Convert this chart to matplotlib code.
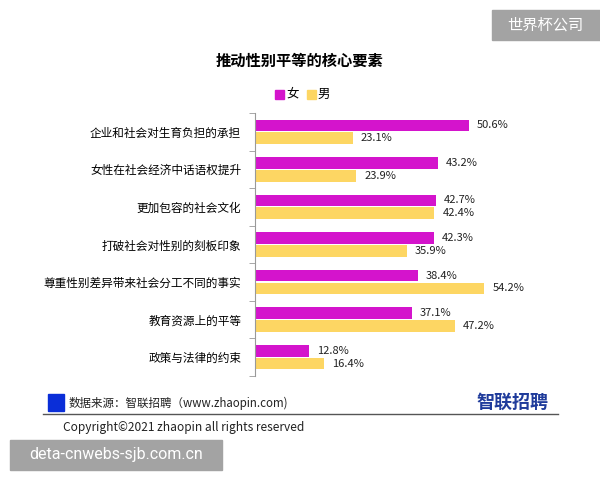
import matplotlib
matplotlib.use("Agg")
import matplotlib.pyplot as plt
from matplotlib.patches import Rectangle
from matplotlib.lines import Line2D

plt.rcParams['font.family'] = ['Noto Sans CJK SC', 'DejaVu Sans']

categories = ["企业和社会对生育负担的承担", "女性在社会经济中话语权提升", "更加包容的社会文化",
              "打破社会对性别的刻板印象", "尊重性别差异带来社会分工不同的事实",
              "教育资源上的平等", "政策与法律的约束"]
female = [50.6, 43.2, 42.7, 42.3, 38.4, 37.1, 12.8]
male = [23.1, 23.9, 42.4, 35.9, 54.2, 47.2, 16.4]
series_names = ["女", "男"]

c_f = '#D414CC'
c_m = '#FDD663'

fig = plt.figure(figsize=(6, 4.8), dpi=100)
ax = fig.add_axes([0.425, 0.2167, 0.505, 0.548])

y = list(range(len(categories)))
h = 0.31
ax.barh([v - 0.17 for v in y], female, height=h, color=c_f)
ax.barh([v + 0.17 for v in y], male, height=h, color=c_m)
for i in y:
    ax.text(female[i] + 1.9, i - 0.17, f"{female[i]:.1f}%", va='center', ha='left', fontsize=8, color='#222222')
    ax.text(male[i] + 1.9, i + 0.17, f"{male[i]:.1f}%", va='center', ha='left', fontsize=8, color='#222222')

ax.set_xlim(0, 71.6)
ax.set_ylim(len(categories) - 0.5, -0.5)
ax.set_yticks(y)
ax.set_yticklabels(categories, fontsize=8.4)
ax.tick_params(axis='y', which='major', length=0, pad=10)
ax.set_yticks([v - 0.5 for v in range(len(categories) + 1)], minor=True)
ax.tick_params(axis='y', which='minor', length=4, color='#999999')
ax.set_xticks([])
for s in ['top', 'right', 'bottom']:
    ax.spines[s].set_visible(False)
ax.spines['left'].set_color('#999999')

# title and legend
fig.text(0.5, 1 - 61 / 480, "推动性别平等的核心要素", ha='center', va='center', fontsize=11, fontweight='bold')
fig.patches.append(Rectangle((275 / 600, 1 - 99 / 480), 9 / 600, 9 / 480, transform=fig.transFigure, color=c_f))
fig.text(286 / 600, 1 - 94 / 480, series_names[0], ha='left', va='center', fontsize=9)
fig.patches.append(Rectangle((307 / 600, 1 - 99 / 480), 9 / 600, 9 / 480, transform=fig.transFigure, color=c_m))
fig.text(318 / 600, 1 - 94 / 480, series_names[1], ha='left', va='center', fontsize=9)

# footer
fig.patches.append(Rectangle((48 / 600, 1 - 411 / 480), 16 / 600, 17 / 480, transform=fig.transFigure, color='#0A2ED8'))
fig.text(69 / 600, 1 - 403 / 480, "数据来源：智联招聘（www.zhaopin.com)", ha='left', va='center', fontsize=8.3, color='#222222')
fig.text(548 / 600, 1 - 402 / 480, "智联招聘", ha='right', va='center', fontsize=13, fontweight='bold', color='#1F3B9B')
fig.lines.append(Line2D([43 / 600, 558 / 600], [1 - 414 / 480] * 2, transform=fig.transFigure, color='#555555', lw=1))
fig.text(63 / 600, 1 - 427 / 480, "Copyright©2021 zhaopin all rights reserved", ha='left', va='center', fontsize=8.6, color='#222222')

# watermarks
fig.patches.append(Rectangle((492 / 600, 1 - 40 / 480), 108 / 600, 30 / 480, transform=fig.transFigure, color='#A3A3A3'))
fig.text(545 / 600, 1 - 25 / 480, "世界杯公司", ha='center', va='center', fontsize=11, color='white')
fig.patches.append(Rectangle((10 / 600, 1 - 470 / 480), 212 / 600, 30 / 480, transform=fig.transFigure, color='#A3A3A3'))
fig.text(116 / 600, 1 - 455 / 480, "deta-cnwebs-sjb.com.cn", ha='center', va='center', fontsize=11.5, color='white',
         family=['Roboto', 'DejaVu Sans'])

fig.savefig("out.png", dpi=100)
